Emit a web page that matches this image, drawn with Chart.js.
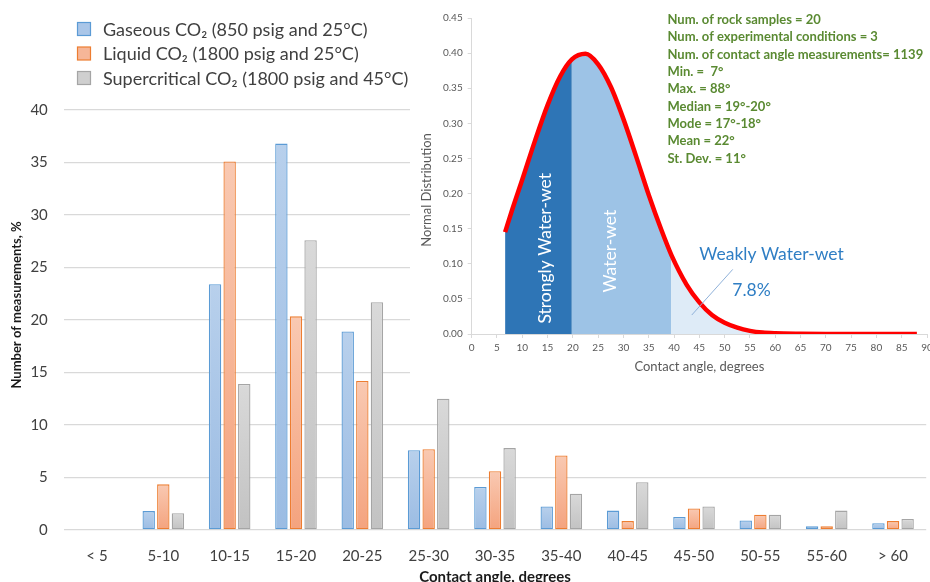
<!DOCTYPE html>
<html><head><meta charset="utf-8">
<script src="https://cdn.jsdelivr.net/npm/chart.js@4.4.1/dist/chart.umd.min.js"></script>
<style>
html,body{margin:0;padding:0;background:#fff;overflow:hidden;width:930px;height:582px}
#wrap{position:relative;width:930px;height:582px;overflow:hidden}
#main{position:absolute;left:0;top:0}
#inset{position:absolute;left:410px;top:0;background:#fff}
</style></head><body>
<div id="wrap"><canvas id="main" width="930" height="582"></canvas><canvas id="inset" width="530" height="380"></canvas></div>
<script>
// ---------- main chart data ----------
const categories = ['< 5','5-10','10-15','15-20','20-25','25-30','30-35','35-40','40-45','45-50','50-55','55-60','> 60'];
const gaseous       = [0, 1.8, 23.4, 36.8, 18.9, 7.6, 4.1, 2.25, 1.85, 1.25, 0.9, 0.35, 0.65];
const liquid        = [0, 4.35, 35.1, 20.35, 14.2, 7.7, 5.6, 7.1, 0.85, 2.05, 1.45, 0.35, 0.85];
const supercritical = [0, 1.6, 13.9, 27.6, 21.7, 12.5, 7.8, 3.45, 4.55, 2.25, 1.45, 1.85, 1.05];
const seriesLabels  = ['Gaseous CO\u2082 (850 psig and 25°C)', 'Liquid CO\u2082 (1800 psig and 25°C)', 'Supercritical CO\u2082 (1800 psig and 45°C)'];
const mainYTicks    = [0, 5, 10, 15, 20, 25, 30, 35, 40];
const mainXTitle    = 'Contact angle, degrees';
const mainYTitle    = 'Number of measurements, %';

// ---------- inset data ----------
const curveAngles = [6.6, 8, 10, 12.5, 15, 17.5, 19.8, 22.5, 25, 27.5, 30, 32.5, 35, 37.5, 39.5, 42.5, 45, 47.5, 50, 52.5, 55, 57.5, 60, 65, 70, 75, 80, 85, 88];
const curveValues = [0.145, 0.177, 0.22, 0.275, 0.326, 0.367, 0.391, 0.399, 0.384, 0.352, 0.306, 0.253, 0.198, 0.148, 0.112, 0.07, 0.045, 0.027, 0.016, 0.009, 0.0045, 0.002, 0.001, 0.0003, 0, 0, 0, 0, 0];
const regionBounds = [6.6, 19.8, 39.5, 88];
const regionLabels = ['Strongly Water-wet', 'Water-wet', 'Weakly Water-wet'];
const weakShare = '7.8%';
const insetXTicks = [0,5,10,15,20,25,30,35,40,45,50,55,60,65,70,75,80,85,90];
const insetYTicks = [0,0.05,0.10,0.15,0.20,0.25,0.30,0.35,0.40,0.45];
const insetXTitle = 'Contact angle, degrees';
const insetYTitle = 'Normal Distribution';
const statsLines = [
  'Num. of rock samples = 20',
  'Num. of experimental conditions = 3',
  'Num. of contact angle measurements= 1139',
  'Min. =  7°',
  'Max. = 88°',
  'Median = 19°-20°',
  'Mode = 17°-18°',
  'Mean = 22°',
  'St. Dev. = 11°'
];

Chart.defaults.font.family = 'Lato, "Liberation Sans", sans-serif';
Chart.defaults.devicePixelRatio = 1;

function grad(top, bottom, solid) {
  return (ctx) => {
    const c = ctx.chart; const ys = c.scales && c.scales.y;
    if (ctx.type !== 'data' || !ys || !c.chartArea) return solid;
    const t = ys.getPixelForValue(ctx.raw), b = ys.getPixelForValue(0);
    if (!isFinite(t) || !isFinite(b) || b - t < 1) return solid;
    const g = c.ctx.createLinearGradient(0, t, 0, b);
    g.addColorStop(0, top); g.addColorStop(1, bottom);
    return g;
  };
}

const seriesStyle = [
  {top:'#b8d0ec', bottom:'#9bbce3', solid:'#aac6e8', border:'#5b9bd5'},
  {top:'#f9c9b2', bottom:'#f4a37e', solid:'#f6b698', border:'#ed7d31'},
  {top:'#d9d9d9', bottom:'#c2c2c2', solid:'#cfcfcf', border:'#a5a5a5'}
];
const seriesData = [gaseous, liquid, supercritical];

function rotatedText(ctx, text, x, y, font, color) {
  ctx.save(); ctx.translate(x, y); ctx.rotate(-Math.PI / 2);
  ctx.font = font; ctx.fillStyle = color; ctx.textAlign = 'center'; ctx.textBaseline = 'middle';
  ctx.fillText(text, 0, 0); ctx.restore();
}

const mainDecor = {
  id: 'mainDecor',
  afterDraw(chart) {
    const ctx = chart.ctx; ctx.save();
    ctx.font = '18px Lato'; ctx.textBaseline = 'middle'; ctx.textAlign = 'left';
    chart.data.datasets.forEach((ds, i) => {
      const y = 29 + 24.5 * i;
      ctx.fillStyle = seriesStyle[i].solid; ctx.fillRect(77.5, y - 6.5, 13, 13);
      ctx.strokeStyle = seriesStyle[i].border; ctx.lineWidth = 1.2; ctx.strokeRect(77.5, y - 6.5, 13, 13);
      ctx.fillStyle = '#404040'; ctx.fillText(ds.label, 103, y + 1);
    });
    ctx.restore();
    rotatedText(ctx, mainYTitle, 17, 305, 'bold 13px Lato', '#1a1a1a');
  }
};

new Chart(document.getElementById('main'), {
  type: 'bar',
  data: {
    labels: categories,
    datasets: seriesData.map((d, i) => ({
      label: seriesLabels[i], data: d,
      backgroundColor: grad(seriesStyle[i].top, seriesStyle[i].bottom, seriesStyle[i].solid),
      borderColor: seriesStyle[i].border, borderWidth: 1.3, borderSkipped: false,
      categoryPercentage: 0.66, barPercentage: 0.85
    }))
  },
  options: {
    responsive: false, animation: false,
    layout: { padding: { top: 110, right: 3.8, bottom: 0, left: 0 } },
    plugins: { legend: { display: false }, tooltip: { enabled: false } },
    scales: {
      x: {
        grid: { display: false }, border: { display: false },
        ticks: { color: '#404040', font: { size: 15 }, padding: 9, maxRotation: 0 },
        title: { display: true, text: mainXTitle, color: '#1a1a1a', font: { size: 15, weight: 'bold' }, padding: { top: 2, bottom: -4 } },
        afterFit(s) { s.height = 52; }
      },
      y: {
        min: 0, max: 40,
        afterBuildTicks(s) { s.ticks = mainYTicks.map(v => ({ value: v })); },
        grid: { color: '#d9d9d9', lineWidth: 1.3, drawTicks: false },
        border: { display: false },
        ticks: { color: '#404040', font: { size: 15 }, padding: 16 },
        title: { display: false },
        afterFit(s) { s.width = 63.8; }
      }
    }
  },
  plugins: [mainDecor]
});

// ---------- inset ----------
const curvePts = curveAngles.map((x, i) => ({ x, y: curveValues[i] }));
function regionPoints(a, b) { return curvePts.filter(p => p.x >= a && p.x <= b); }
const regionColors = ['#2e75b6', '#9dc3e6', '#deebf7'];

const insetAnnot = {
  id: 'insetAnnot',
  afterDatasetsDraw(chart) {
    const ctx = chart.ctx, xs = chart.scales.x, ys = chart.scales.y;
    ctx.save();
    rotatedText(ctx, regionLabels[0], xs.getPixelForValue(14.5), ys.getPixelForValue(0.122), '17.5px Lato', '#ffffff');
    rotatedText(ctx, regionLabels[1], xs.getPixelForValue(27.5), ys.getPixelForValue(0.118), '17.5px Lato', '#ffffff');
    ctx.font = '17.5px Lato'; ctx.textBaseline = 'middle';
    ctx.fillStyle = '#2f7ec4'; ctx.textAlign = 'left';
    ctx.fillText(regionLabels[2], xs.getPixelForValue(45.0), ys.getPixelForValue(0.113));
    ctx.fillText(weakShare, xs.getPixelForValue(51.5), ys.getPixelForValue(0.062));
    ctx.strokeStyle = '#8fb1d9'; ctx.lineWidth = 1;
    ctx.beginPath();
    ctx.moveTo(xs.getPixelForValue(51.6), ys.getPixelForValue(0.092));
    ctx.lineTo(xs.getPixelForValue(43.5), ys.getPixelForValue(0.027));
    ctx.stroke();
    ctx.restore();
  },
  afterDraw(chart) {
    const ctx = chart.ctx, xs = chart.scales.x;
    ctx.save();
    ctx.font = 'bold 13px Lato'; ctx.fillStyle = '#5a8a32'; ctx.textAlign = 'left'; ctx.textBaseline = 'middle';
    const x0 = xs.getPixelForValue(38.7);
    statsLines.forEach((t, i) => ctx.fillText(t, x0, 20 + 17.3 * i));
    ctx.restore();
    rotatedText(ctx, insetYTitle, 17, 190, '13px Lato', '#595959');
  }
};

new Chart(document.getElementById('inset'), {
  type: 'line',
  data: {
    datasets: [
      { label: 'curve', data: curvePts, borderColor: '#ff0000', borderWidth: 4.5, fill: false, pointRadius: 0, cubicInterpolationMode: 'monotone', order: 0 },
      ...[0, 1, 2].map(i => ({
        label: regionLabels[i], data: regionPoints(regionBounds[i], regionBounds[i + 1]),
        borderColor: 'rgba(0,0,0,0)', borderWidth: 0, backgroundColor: regionColors[i],
        fill: 'origin', pointRadius: 0, cubicInterpolationMode: 'monotone', order: 1 + i
      }))
    ]
  },
  options: {
    responsive: false, animation: false,
    layout: { padding: { top: 18, right: 13, bottom: 0, left: 0 } },
    plugins: { legend: { display: false }, tooltip: { enabled: false } },
    scales: {
      x: {
        type: 'linear', min: 0, max: 90,
        afterBuildTicks(s) { s.ticks = insetXTicks.map(v => ({ value: v })); },
        grid: { drawOnChartArea: false, drawTicks: true, tickLength: 4, color: '#d9d9d9' },
        border: { color: '#d9d9d9' },
        ticks: { color: '#595959', font: { size: 10 }, padding: 4, maxRotation: 0, autoSkip: false },
        title: { display: true, text: insetXTitle, color: '#595959', font: { size: 13 }, padding: { top: 0, bottom: 5 } },
        afterFit(s) { s.height = 46; }
      },
      y: {
        min: 0, max: 0.45,
        afterBuildTicks(s) { s.ticks = insetYTicks.map(v => ({ value: v })); },
        grid: { drawOnChartArea: false, drawTicks: true, tickLength: 4, color: '#d9d9d9' },
        border: { color: '#d9d9d9' },
        ticks: { color: '#595959', font: { size: 10 }, padding: 5, callback: v => Number(v).toFixed(2) },
        title: { display: false },
        afterFit(s) { s.width = 61.7; }
      }
    }
  },
  plugins: [insetAnnot]
});
</script>
</body></html>
